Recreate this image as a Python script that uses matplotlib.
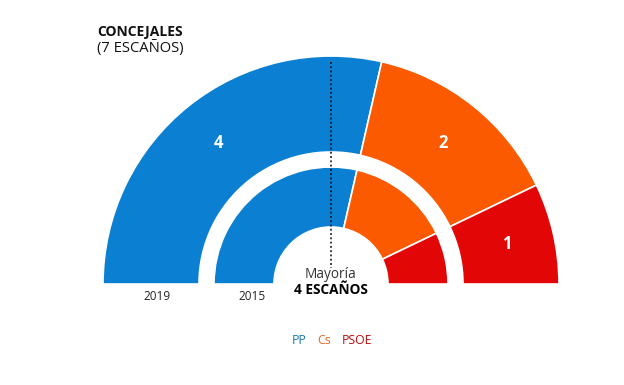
import matplotlib
matplotlib.use("Agg")
import matplotlib.pyplot as plt
import numpy as np

plt.rcParams['font.family'] = ['Open Sans', 'DejaVu Sans']

parties = ["PP", "Cs", "PSOE"]
colors = ["#0B80D2", "#FB5A00", "#E30606"]
legend_colors = ["#1577B8", "#E06A2A", "#C00A0A"]
seats_2019 = [4, 2, 1]
seats_2015 = [4, 2, 1]
total_seats = 7
majority = 4
years = ["2019", "2015"]

W, H = 624, 385
fig = plt.figure(figsize=(W / 100, H / 100), dpi=100)
ax = fig.add_axes([0, 0, 1, 1])

cx, cy = 331, H - 284
rings = [(seats_2019, 228, 96, True), (seats_2015, 117, 60, False)]

for vals, r, w, show in rings:
    wedges, _ = ax.pie(vals + [sum(vals)], colors=colors + ["none"], radius=r,
                       center=(cx, cy), startangle=180, counterclock=False,
                       wedgeprops=dict(width=w, edgecolor="white", linewidth=1.2))
    wedges[-1].set_visible(False)
    if show:
        for wd, v in zip(wedges[:-1], vals):
            th = np.deg2rad((wd.theta1 + wd.theta2) / 2)
            rr = r - w / 2
            ax.text(cx + rr * np.cos(th), cy + rr * np.sin(th), str(v),
                    color="white", fontsize=12, fontweight="bold",
                    ha="center", va="center")

# majority line
ax.plot([cx, cx], [H - 62, H - 268], color="black", linestyle=(0, (1.2, 1.6)), lw=1.1)

ax.text(cx, H - 274, "Mayoría", ha="center", va="center", fontsize=9.8, color="#333333")
ax.text(cx, H - 290, f"{majority} ESCAÑOS", ha="center", va="center", fontsize=9.8,
        fontweight="bold", color="black")

ax.text(157, H - 297, years[0], ha="center", va="center", fontsize=8.5, color="#222222")
ax.text(252, H - 297, years[1], ha="center", va="center", fontsize=8.5, color="#222222")

ax.text(97, H - 32, "CONCEJALES", ha="left", va="center", fontsize=10,
        fontweight="bold", color="#111111")
ax.text(97, H - 48, f"({total_seats} ESCAÑOS)", ha="left", va="center", fontsize=10.6,
        color="#111111")

legend_x = [299, 324, 357]
for p, c, x in zip(parties, legend_colors, legend_x):
    ax.text(x, H - 340, p, ha="center", va="center", fontsize=8.8, color=c)

ax.set_xlim(0, W)
ax.set_ylim(0, H)
ax.set_aspect("auto")
ax.axis("off")
fig.savefig("out.png", dpi=100, facecolor="white")
